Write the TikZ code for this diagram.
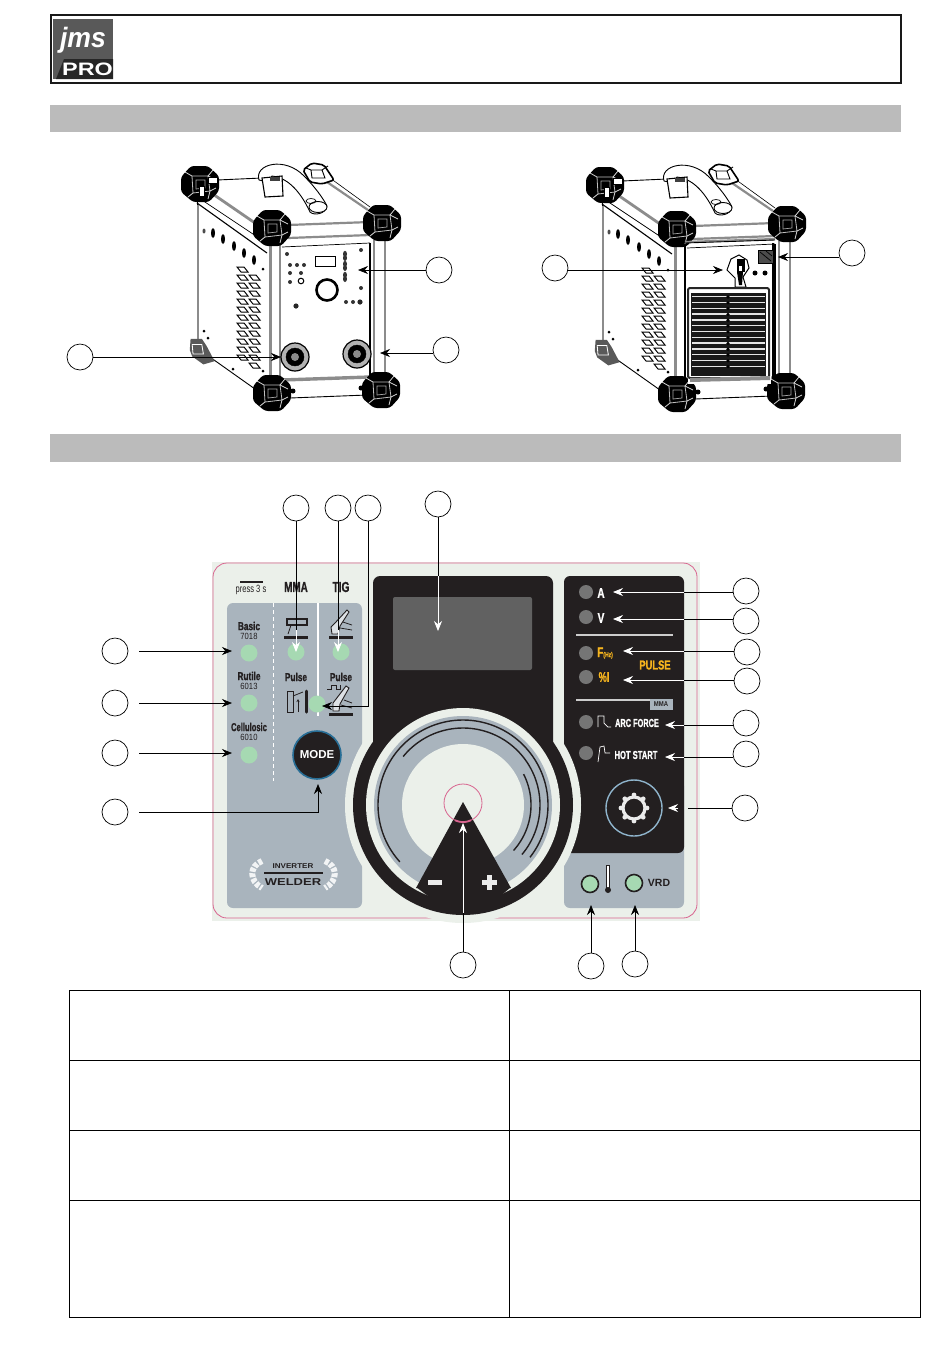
\documentclass[tikz,border=0pt]{standalone}
\usepackage{graphicx}
\usepackage{fontspec}
\setmainfont{Liberation Sans}
\newfontfamily\hvy[BoldFeatures={FakeBold=1.2}]{Liberation Sans}
\usetikzlibrary{calc,arrows.meta}
\definecolor{dark}{HTML}{231F20}
\definecolor{bgp}{HTML}{EBF0EA}
\definecolor{pinkl}{HTML}{D8648F}
\definecolor{greyp}{HTML}{A9B4BD}
\definecolor{ledg}{HTML}{A6D9B2}
\definecolor{ledd}{HTML}{757575}
\definecolor{barg}{HTML}{BBBBBB}
\definecolor{amber}{HTML}{F5B41E}
\definecolor{framg}{HTML}{8C8C8C}
\definecolor{ringb}{HTML}{8FB4CC}
\newcommand{\nar}[2][.72]{\scalebox{#1}[1]{#2}}
\newcommand{\fs}[1]{\fontsize{#1}{#1}\selectfont}
\tikzset{
  callout/.style={circle,draw=black,line width=.7pt,fill=white,minimum size=26pt,inner sep=0pt},
  lead/.style={black,line width=.7pt},
  leadb/.style={black,line width=.7pt,-{Stealth[length=10pt,width=8pt]}},
  leadw/.style={white,line width=.8pt,-{Stealth[length=10pt,width=8pt]}},
  ledgreen/.style={circle,fill=ledg,minimum size=17pt,inner sep=0pt},
  ledring/.style={circle,fill=ledg,draw=dark,line width=1.6pt,minimum size=17pt,inner sep=0pt},
  leddark/.style={circle,fill=ledd,minimum size=14pt,inner sep=0pt},
  tdark/.style={text=dark,font=\hvy\bfseries,inner sep=0pt,align=center},
  tdarkl/.style={text=dark,font=\normalfont,inner sep=0pt,align=center},
  twhite/.style={text=white,font=\hvy\bfseries,inner sep=0pt},
  tamber/.style={text=amber,font=\hvy\bfseries,inner sep=0pt},
  gbar/.style={framg,line width=2.2pt},
  blin/.style={black,line width=.9pt},
  tablerule/.style={black,line width=.6pt},
}
% corner block of the case
\newcommand{\cblock}[2]{%
  \begin{scope}[shift={(#1,#2)}]
    \fill[black,rounded corners=3pt] (-9,-18)--(8,-18)--(19,-8)--(19,7)--(9,18)--(-7,18)--(-19,8)--(-19,-7)--cycle;
    \draw[white!75!black,line width=.8pt] (-8,-8)--(8,-8)--(10,7)--(-7,9)--cycle;
    \draw[white!85!black,line width=.8pt] (-8,-8)--(-15,-12) (8,-8)--(13,-14) (10,7)--(16,4) (-7,9)--(-12,13) (10,7)--(8,15) (8,-8)--(16,-4);
    \draw[white!65!black,line width=.7pt] (-4,-4)--(5,-4)--(5,4)--(-4,5)--cycle;
  \end{scope}}
\newcommand{\machinebase}{%
  % faces
  \fill[white] (200,183)--(315,173)--(382,223)--(382,390)--(272,396)--(197,345)--(197,200)--cycle;
  % top and side rails
  \draw[blin] (217,180)--(262,178);
  \draw[gbar] (327,182)--(368,210);
  \draw[black,line width=.6pt] (330,178)--(370,207);
  \draw[gbar,line width=2.8pt] (207,190)--(255,223);
  \draw[black,line width=1.1pt] (197,203)--(267,253);
  \draw[black,line width=.6pt] (197,200)--(197,207);
  \draw[black,line width=.7pt] (199,198)--(262,240);
  \draw[gbar] (198,205)--(198,340);
  \draw[blin] (207,355)--(255,389);
  % front frame
  \draw[gbar,line width=3pt] (270,245)--(270,378);
  \draw[gbar] (280,245)--(280,380);
  \draw[gbar] (374,240)--(374,378);
  \draw[gbar] (385,240)--(385,376);
  \draw[black,line width=1.4pt] (370,243)--(370,378);
  \draw[gbar] (288,225)--(370,222);
  \draw[gbar] (288,238)--(370,235);
  \draw[black,line width=.7pt] (282,247)--(370,243);
  \draw[gbar,line width=3.4pt] (282,380)--(370,377);
  \draw[blin] (290,398)--(367,395);
  \fill[black] (293,391) circle[radius=2.5] (361,388) circle[radius=2.5];
  % side holes
  \fill[black!70] (204,231) ellipse[x radius=1.5,y radius=2.5];
  \foreach \hx/\hy in {213/233,223/239,234/246,244/253,254/260}
    \fill[black] (\hx,\hy) ellipse[x radius=2,y radius=5];
  % slats
  \foreach \i in {0,...,11}{
    \pgfmathsetmacro{\ya}{267+8*\i}
    \pgfmathsetmacro{\yb}{275+8*\i}
    \filldraw[fill=white,draw=black,line width=1pt] (237,\ya)--(244,\ya)--(248,\ya+5)--(241,\ya+5)--cycle;
    \filldraw[fill=white,draw=black,line width=1pt] (249,\yb)--(256,\yb)--(260,\yb+5)--(253,\yb+5)--cycle;
  }
  \fill[black] (263,269) circle[radius=1.5] (263,371) circle[radius=1.5] (233,369) circle[radius=1.5] (204,331) circle[radius=1.5] (208,338) circle[radius=1.5];
  % handle
  \filldraw[fill=white,draw=black,line width=.9pt] (259,180) .. controls (254,164) and (285,156) .. (304,176) .. controls (315,187) and (323,198) .. (327,206) .. controls (326,214) and (314,216) .. (310,212) .. controls (302,195) and (290,178) .. (272,176) -- (268,182) -- cycle;
  \filldraw[fill=white,draw=black,line width=1.1pt] (262,178)--(282,176)--(283,196)--(265,197)--cycle;
  \fill[black!75] (270,177) rectangle (280,181);
  \filldraw[fill=white,draw=black,line width=.9pt] (318,207) ellipse[x radius=9,y radius=5.5];
  \draw[black,line width=.7pt] (311,201) ellipse[x radius=5,y radius=2.5];
  % corners
  \begin{scope}[shift={(316,172)}]
    \filldraw[fill=white,draw=black,line width=1.6pt,rounded corners=2pt] (-13,-2)--(-4,-9)--(8,-7)--(18,8)--(6,12)--(-6,10)--cycle;
    \draw[black,line width=.9pt] (-5,-2)--(6,-2)--(9,6)--(-4,6)--cycle (6,-2)--(12,-6) (-5,-2)--(-10,-4);
  \end{scope}
  \cblock{200}{184}
  \fill[white] (208,177) rectangle (217,183);
  \draw[black,line width=.7pt] (208,177) rectangle (217,183);
  \filldraw[fill=white,draw=black,line width=.7pt] (199,186) rectangle (204,196);
  \cblock{272}{228}
  \cblock{382}{223}
  \cblock{272}{393}
  \cblock{381}{390}
  \begin{scope}[shift={(197,350)},scale=.8]
    \fill[black!65] (-8,-14)--(6,-14)--(12,-5)--(22,14)--(8,18)--(-6,8)--(-9,0)--cycle;
    \draw[white,line width=.8pt] (-6,-7)--(6,-7)--(8,5)--(-5,5)--cycle;
  \end{scope}
}
\begin{document}
\begin{tikzpicture}[x=1pt,y=-1pt]
\useasboundingbox (0,0) rectangle (950,1353);
\fill[white] (0,0) rectangle (950,1353);
% header
\draw[black!90,line width=2pt] (51,15) rectangle (901,83);
\fill[black!65] (53,19) rectangle (113,79);
\fill[black!85] (64,59)--(113,59)--(113,79)--(56,79)--cycle;
\node[text=white,inner sep=0pt] (logoa) at (83,40) {\fs{28}\bfseries\itshape\nar[.95]{jms}};
\node[text=white,inner sep=0pt] (logob) at (87.5,69.5) {\fs{18}\bfseries\scalebox{1.3}[1]{PRO}};
\fill[barg] (50,105) rectangle (901,132);
\fill[barg] (50,434) rectangle (901,462);
% machines
\machinebase
% machine 1 front
\draw[black,line width=.9pt] (315,256) rectangle (335,266);
\filldraw[fill=white,draw=black,line width=2.6pt] (327,290) circle[radius=10.5];
\foreach \dx/\dy in {287/254,361/250,290/265,297/265,304/265,290/273,301/273,290/282,361/288,346/302,353/302}
  \fill[black!80] (\dx,\dy) circle[radius=2];
\fill[black!85] (360,302) circle[radius=2.6] (296,306) circle[radius=2.6];
\foreach \dy in {254,264,275}{\fill[black!80] (345,\dy) ellipse[x radius=2,y radius=3.2];\fill[black!80] (345,\dy+4) ellipse[x radius=2,y radius=3];}
\filldraw[fill=white,draw=black,line width=1pt] (301,281) circle[radius=2.8];
\filldraw[fill=black!30,draw=black,line width=1.2pt] (295,357) circle[radius=14];
\filldraw[fill=black,draw=black] (295,357) circle[radius=9];
\fill[black!45] (295,357) circle[radius=4];
\filldraw[fill=black!30,draw=black,line width=1.2pt] (357,354) circle[radius=14];
\filldraw[fill=black,draw=black] (357,354) circle[radius=9];
\fill[black!45] (357,354) circle[radius=4];
\node[callout] (c1) at (439,270) {};
\node[callout] (c2) at (446,350) {};
\node[callout] (c3) at (80,357) {};
\coordinate (t1) at (358,270);
\coordinate (t2) at (380,353);
\coordinate (t3) at (281,357);
\draw[leadb] (c1.west)--(t1);
\draw[leadb] (c2.west |- t2)--(t2);
\draw[leadb] (c3.east)--(t3);
% machine 2
\begin{scope}[shift={(405,1)}]
\machinebase
\end{scope}
\fill[white] (688,250) rectangle (771,384);
\draw[gbar] (685,242)--(775,239);
\draw[blin] (685,243)--(775,240);
\draw[black,line width=1.3pt] (773,243)--(773,378);
\draw[black,line width=1.2pt] (685,245)--(685,380);
% switch
\filldraw[fill=white,draw=black,line width=1pt] (727,270)--(731,259)--(739,255)--(747,260)--(749,268)--(743,277)--(746,287)--(735,287)--(735,278)--cycle;
\fill[black] (737,259) rectangle (745,272);
\fill[black] (737,272)--(743,272)--(742,285)--(739,285)--cycle;
\fill[white] (739,266) rectangle (742,271);
\filldraw[fill=black!70,draw=black,line width=1pt] (758,250) rectangle (773,263);
\draw[black,line width=.7pt] (760,252)--(771,261) (766,251)--(772,256);
\fill[black] (755,273) circle[radius=2.5] (765,273) circle[radius=2.5];
\draw[black!85,line width=2pt,rounded corners=2pt] (688,288) rectangle (769,378);
\fill[black!90] (691,293) rectangle (766,376);
\foreach \i in {0,...,12}{\fill[white!90!black] (692,{296+5.8*\i}) rectangle (765,{297.4+5.8*\i});}
\foreach \i in {0,...,12}{\fill[black] (728,{297+5.8*\i}) circle[radius=1.8];}
\draw[gbar,line width=4pt] (690,380)--(770,378);
\node[callout] (c4) at (555,268) {};
\node[callout] (c5) at (852,253) {};
\coordinate (t4) at (723,270);
\coordinate (t5) at (778,257);
\draw[leadb] (c4.east |- t4)--(t4);
\draw[leadb] (c5.west |- t5)--(t5);
% panel
\fill[bgp] (212,562) rectangle (700,921);
\draw[pinkl,line width=.8pt,rounded corners=14pt] (213,563) rectangle (697,918);
\fill[greyp,rounded corners=6pt] (227,603) rectangle (362,908);
\fill[greyp,rounded corners=6pt] (564,780) rectangle (684,908);
\fill[dark,rounded corners=6pt] (564,576) -- (684,576) -- (684,853) -- (564,853) -- cycle;
\fill[bgp] (463,805) circle[radius=118];
\fill[dark,rounded corners=7pt] (373,576) rectangle (553,790);
\fill[dark] (463,805) circle[radius=110];
\fill[bgp] (463,805) circle[radius=97];
\fill[greyp] (463,805) circle[radius=89];
\fill[bgp] (463,805) circle[radius=61];
\foreach \r/\a/\b in {85/222/-38,77/141/-40,68/27/-42}{
  \draw[dark,line width=1.4pt,smooth] plot[domain=\a:\b,samples=70] ({463+\r*cos(\x)},{805-\r*sin(\x)});
}
\fill[dark] (463,802)--(416,888)--(511,888)--cycle;
\fill[dark] (416,887)--(511,887)--(490,905)--(440,905)--cycle;
\draw[pinkl,line width=.8pt] (463,803) circle[radius=19];
\draw[pinkl,line width=1.8pt,smooth] plot[domain=245:295,samples=12] ({463+19*cos(\x)},{803-19*sin(\x)});
\fill[white!92!black] (428,880) rectangle (442,885);
\fill[white!92!black] (482,880) rectangle (497,885);
\fill[white!92!black] (487,875) rectangle (492,890);
% display
\fill[black!62,rounded corners=2pt] (393,597) rectangle (532,670);
% left labels
\draw[white,line width=1pt,dash pattern=on 4pt off 3pt] (273,603)--(273,781);
\draw[white,line width=1.1pt] (318,603)--(318,716);
\node[ledgreen] (l1) at (249,653) {};
\node[ledgreen] (l2) at (249,703) {};
\node[ledgreen] (l3) at (249,755) {};
\node[ledgreen] (l4) at (296,652) {};
\node[ledgreen] (l5) at (341,652) {};
\node[ledgreen] (l6) at (317,704) {};
\fill[dark] (240,581) rectangle (263,582.5);
\node[tdarkl] (tp) at (251,590) {\fs{10.5}\nar[.72]{press 3 s}};
\node[tdark] (tm) at (296,587) {\fs{14.5}\nar[.68]{MMA}};
\node[tdark] (tt) at (341,587) {\fs{14.5}\nar[.7]{TIG}};
\node[tdark] (b1) at (249,626) {\fs{11.5}\nar[.72]{Basic}};
\node[tdarkl] (b2) at (249,636) {\fs{9}\nar[.85]{7018}};
\node[tdark] (r1) at (249,676) {\fs{11.5}\nar[.72]{Rutile}};
\node[tdarkl] (r2) at (249,686) {\fs{9}\nar[.85]{6013}};
\node[tdark] (d1) at (249,727) {\fs{11.5}\nar[.66]{Cellulosic}};
\node[tdarkl] (d2) at (249,737) {\fs{9}\nar[.85]{6010}};
\node[tdark] (p1) at (296,677) {\fs{11.5}\nar[.72]{Pulse}};
\node[tdark] (p2) at (341,677) {\fs{11.5}\nar[.72]{Pulse}};
% MMA icon
\draw[dark,line width=1.1pt] (287,619) rectangle (307,625);
\fill[dark] (284,636) rectangle (308,639);
\draw[dark,line width=.8pt] (291,625)--(288,634);
% TIG icon
\fill[dark] (329,636) rectangle (353,639);
\filldraw[fill=white!60!greyp,draw=dark,line width=.9pt] (332,634)--(331,627)--(335,623)--(347,610)--(349,612)--(340,626)--(338,634)--cycle;
\draw[dark,line width=.8pt] (343,622)--(352,625) (340,628)--(352,630);
% pulse MMA icon
\draw[dark,line width=1pt] (287,691) rectangle (293,712);
\draw[dark,line width=.8pt] (293,696)--(303,692);
\draw[dark,line width=.8pt,-{Stealth[length=3pt,width=3pt]}] (298,712)--(298,699);
\draw[dark,line width=3pt,line cap=round] (306,691)--(306,712);
% pulse TIG icon
\fill[dark] (329,713) rectangle (353,716);
\draw[dark,line width=1pt] (327,689)--(331,689)--(331,685)--(336,685)--(336,689)--(340,689)--(340,685);
\filldraw[fill=white!60!greyp,draw=dark,line width=.9pt] (333,711)--(333,703)--(346,686)--(349,688)--(340,704)--(339,711)--cycle;
\draw[dark,line width=.8pt] (344,700)--(352,703) (341,705)--(352,708);
% MODE
\node[circle,fill=dark,draw={rgb,255:red,40;green,110;blue,150},line width=1.6pt,minimum size=48pt,inner sep=0pt,text=white,font=\bfseries] (mode) at (317,755) {\fs{11.5}MODE};
% logo
\draw[dark,line width=1.3pt] (264,873)--(323,873);
\node[text=dark,inner sep=0pt] (iw1) at (293,866) {\fs{7}\bfseries\scalebox{1.15}[1]{INVERTER}};
\node[text=dark,inner sep=0pt] (iw2) at (293,882) {\fs{10}\bfseries\scalebox{1.3}[1]{WELDER}};
\draw[white!85!greyp,line width=6pt,dash pattern=on 4pt off 1.5pt] (262,861) .. controls (249,866) and (249,881) .. (262,888);
\draw[white!85!greyp,line width=6pt,dash pattern=on 4pt off 1.5pt] (325,861) .. controls (338,866) and (338,881) .. (325,888);
% right column
\node[leddark] (a1) at (586,592) {};
\node[leddark] (a2) at (586,617) {};
\node[leddark] (a3) at (586,653) {};
\node[leddark] (a4) at (586,677) {};
\node[leddark] (a5) at (586,722) {};
\node[leddark] (a6) at (586,753) {};
\node[twhite] (ta) at (601,593) {\fs{14}\nar[.72]{A}};
\node[twhite] (tv) at (601,618) {\fs{14}\nar[.72]{V}};
\node[tamber] (tf) at (605,653) {\fs{14}\nar[.72]{F}\fs{7}\nar[.72]{(Hz)}};
\node[tamber] (ti) at (604,677) {\fs{14}\nar[.66]{\%I}};
\node[tamber] (tpu) at (655,665) {\fs{13}\nar[.72]{PULSE}};
\draw[black!20,line width=1.3pt] (576,635)--(673,635);
\draw[black!20,line width=1.3pt] (576,700)--(673,700);
\fill[greyp] (650,699) rectangle (673,710);
\node[text=dark,inner sep=0pt,font=\bfseries] (tmma) at (661,704.5) {\fs{7}\nar[.85]{MMA}};
\node[twhite] (tarc) at (637,723) {\fs{11.5}\nar[.64]{ARC FORCE}};
\node[twhite] (thot) at (636,755) {\fs{11.5}\nar[.66]{HOT START}};
\draw[white,line width=.7pt] (598,727)--(598,716)--(604,716)--(604,723)--(608,727)--(611,727);
\draw[white,line width=.7pt] (598,762)--(600,747)--(604,746)--(605,753)--(610,753);
% gear
\draw[ringb,line width=1.4pt] (634,808) circle[radius=28];
\draw[white!92!black,line width=3.2pt] (634,808) circle[radius=11];
\foreach \g in {0,45,...,315}{
  \fill[white!92!black] ({634+13*cos(\g)},{808-13*sin(\g)}) circle[radius=2.4];
}
% bottom LEDs
\node[ledring] (b3) at (590,884) {};
\node[ledring] (b4) at (634,883) {};
\draw[dark,line width=.8pt,fill=white] (606.5,865) rectangle (609,888);
\fill[dark] (608,890) circle[radius=3];
\node[inner sep=0pt,text=dark,font=\bfseries] (vrd) at (659,883) {\fs{10.5}VRD};
% callouts on panel
\node[callout] (n1) at (296,508) {};
\node[callout] (n2) at (338,508) {};
\node[callout] (n3) at (368,508) {};
\node[callout] (n4) at (438,504) {};
\node[callout] (n5) at (115,651) {};
\node[callout] (n6) at (115,703) {};
\node[callout] (n7) at (115,753) {};
\node[callout] (n8) at (115,812) {};
\node[callout] (n9) at (746,591) {};
\node[callout] (n10) at (746,621) {};
\node[callout] (n11) at (747,652) {};
\node[callout] (n12) at (747,681) {};
\node[callout] (n13) at (746,723) {};
\node[callout] (n14) at (746,754) {};
\node[callout] (n15) at (745,808) {};
\node[callout] (n16) at (463,965) {};
\node[callout] (n17) at (591,966) {};
\node[callout] (n18) at (635,964) {};
% left arrows
\coordinate (e5) at (232,651);
\coordinate (e6) at (232,703);
\coordinate (e7) at (232,753);
\draw[leadb,shorten <=11pt] (n5.east)--(e5);
\draw[leadb,shorten <=11pt] (n6.east)--(e6);
\draw[leadb,shorten <=11pt] (n7.east)--(e7);
\coordinate (e8) at (318,784);
\draw[leadb,shorten <=11pt] (n8.east) -| (e8);
% top arrows
\coordinate (s1) at (296,630);
\coordinate (e1) at (296,652);
\draw[lead] (n1.south)--(s1);
\draw[leadw] (s1)--(e1);
\coordinate (s2) at (338,630);
\coordinate (e2) at (338,652);
\draw[lead] (n2.south)--(s2);
\draw[leadw] (s2)--(e2);
\coordinate (e3) at (322,706);
\draw[leadb] (n3.south) |- (e3);
\coordinate (s4) at (438,576);
\coordinate (e4) at (438,631);
\draw[lead] (n4.south)--(s4);
\draw[leadw] (s4)--(e4);
% right arrows
\foreach \n/\yy/\xe/\xs in {n9/592/613/684,n10/619/613/684,n11/651/623/684,n12/680/623/684,n13/725/665/684,n14/757/665/684}{
  \coordinate (s) at (\xs,\yy);
  \coordinate (e) at (\xe,\yy);
  \draw[lead] (\n.west |- s)--(s);
  \draw[leadw] (s)--(e);
}
\coordinate (s15) at (688,808);
\coordinate (w15) at (678,808);
\coordinate (e15) at (668,808);
\draw[lead] (n15.west)--(s15);
\draw[leadw] (w15)--(e15);
% bottom arrows
\coordinate (s16) at (463,913);
\coordinate (e16) at (463,823);
\draw[lead] (n16.north)--(s16);
\draw[leadw] (s16)--(e16);
\coordinate (e17) at (591,905);
\coordinate (e18) at (635,905);
\draw[leadb] (n17.north)--(e17);
\draw[leadb] (n18.north)--(e18);
% table
\draw[tablerule] (69,990) rectangle (920,1317);
\draw[tablerule] (69,1060)--(920,1060);
\draw[tablerule] (69,1130)--(920,1130);
\draw[tablerule] (69,1200)--(920,1200);
\draw[tablerule] (509,990)--(509,1317);
\end{tikzpicture}
\end{document}
